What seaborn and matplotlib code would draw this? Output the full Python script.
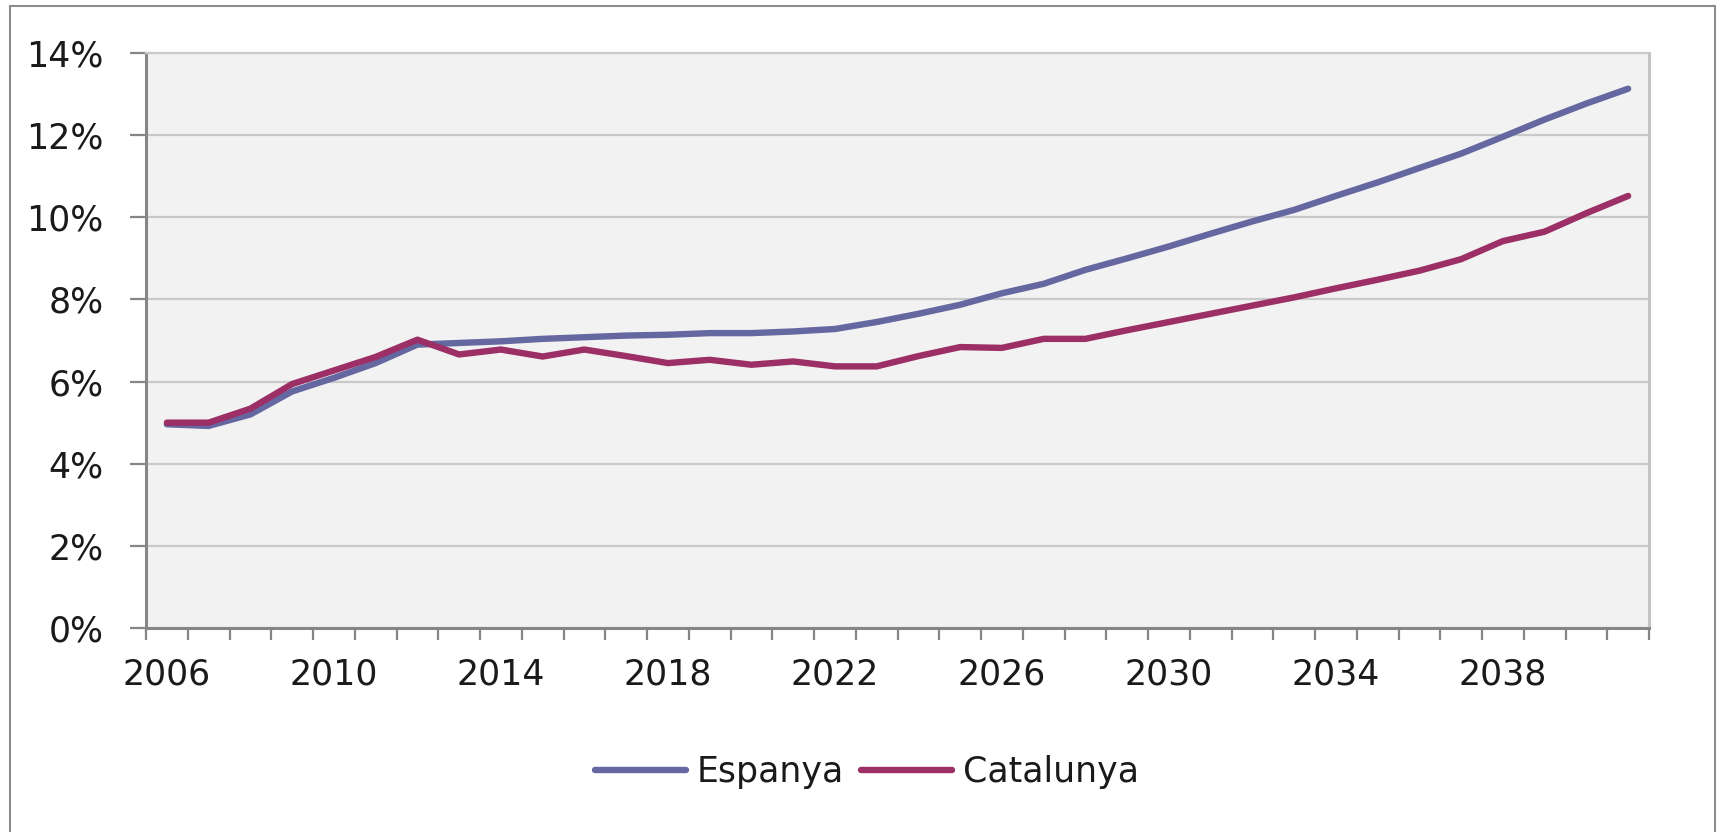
import numpy as np
import pandas as pd
import seaborn as sns
import matplotlib.pyplot as plt
from matplotlib.patches import Rectangle
from matplotlib.ticker import FuncFormatter, FixedLocator


#dades llegides del gràfic (percentatge)
anys = list(range(2006, 2042))

espanya = [4.96, 4.92, 5.20, 5.76, 6.09, 6.45, 6.90, 6.94, 6.98, 7.04,
           7.08, 7.12, 7.14, 7.18, 7.18, 7.22, 7.28, 7.45, 7.65, 7.87,
           8.15, 8.38, 8.72, 9.00, 9.29, 9.60, 9.90, 10.18, 10.52, 10.85,
           11.20, 11.55, 11.96, 12.38, 12.77, 13.13]

catalunya = [5.00, 5.00, 5.34, 5.94, 6.27, 6.60, 7.02, 6.66, 6.78, 6.61,
             6.78, 6.62, 6.45, 6.53, 6.41, 6.49, 6.37, 6.37, 6.62, 6.84,
             6.82, 7.04, 7.04, 7.25, 7.45, 7.65, 7.85, 8.05, 8.27, 8.48,
             8.70, 8.98, 9.42, 9.65, 10.10, 10.52]

series = ['Espanya', 'Catalunya']
colors = ['#6567A1', '#9B2F66']
year_labels = [2006, 2010, 2014, 2018, 2022, 2026, 2030, 2034, 2038]
y_ticks = [0, 2, 4, 6, 8, 10, 12, 14]


#format percentatge
def pct(x, pos):
    return f'{x:.0f}%'


def grafic():
    df = pd.DataFrame({'any': anys, 'Espanya': espanya, 'Catalunya': catalunya})
    df_long = df.melt(id_vars='any', value_vars=series, var_name='serie', value_name='valor')

    sns.set_style('white')
    plt.rcParams['font.family'] = ['DejaVu Sans']

    fig = plt.figure(figsize=(17.21, 8.32), dpi=100)
    ax = fig.add_axes([146 / 1721, 1 - 628 / 832, 1503 / 1721, (628 - 53) / 832])
    ax.set_facecolor('#F2F2F2')

    sns.lineplot(data=df_long, x='any', y='valor', hue='serie', hue_order=series,
                 palette=colors, linewidth=4.6, ax=ax, legend=False,
                 solid_capstyle='round', solid_joinstyle='round')

    #eixos
    ax.set_xlim(anys[0] - 0.5, anys[-1] + 0.5)
    ax.set_ylim(0, 14)
    ax.set_yticks(y_ticks)
    ax.yaxis.set_major_formatter(FuncFormatter(pct))
    ax.set_xticks(year_labels)
    ax.set_xticklabels([str(a) for a in year_labels])
    ax.xaxis.set_minor_locator(FixedLocator(np.arange(anys[0] - 0.5, anys[-1] + 1, 1)))
    ax.set_xlabel('')
    ax.set_ylabel('')

    ax.grid(axis='y', color='#C9C9C9', linewidth=1.6)
    ax.set_axisbelow(True)

    ax.tick_params(axis='y', which='major', length=11.5, width=1.6, color='#868686',
                   pad=19, labelsize=25, labelcolor='#1A1A1A', left=True)
    ax.tick_params(axis='x', which='major', length=0, pad=21, labelsize=25,
                   labelcolor='#1A1A1A', bottom=True)
    ax.tick_params(axis='x', which='minor', length=8.6, width=1.6, color='#868686',
                   bottom=True)

    for side in ['left', 'bottom']:
        ax.spines[side].set_color('#868686')
        ax.spines[side].set_linewidth(2.2)
    ax.spines['right'].set_color('#C4C4C4')
    ax.spines['right'].set_linewidth(2.2)
    ax.spines['top'].set_color('#C9C9C9')
    ax.spines['top'].set_linewidth(1.6)

    #llegenda
    handles = [plt.Line2D([], [], color=c, linewidth=4.6, solid_capstyle='round') for c in colors]
    fig.legend(handles, series, loc='center', bbox_to_anchor=(867 / 1721, 1 - 772 / 832),
               ncol=2, frameon=False, fontsize=25, handlelength=2.6, handletextpad=0.32,
               columnspacing=0.5, labelcolor='#1A1A1A')

    #marc del gràfic
    fig.patches.append(Rectangle((10 / 1721, -0.05), 1705 / 1721, 1.05 - 6 / 832,
                                 transform=fig.transFigure, fill=False,
                                 edgecolor='#8C8C8C', linewidth=1.5))

    fig.savefig('out.png', dpi=100)


grafic()
